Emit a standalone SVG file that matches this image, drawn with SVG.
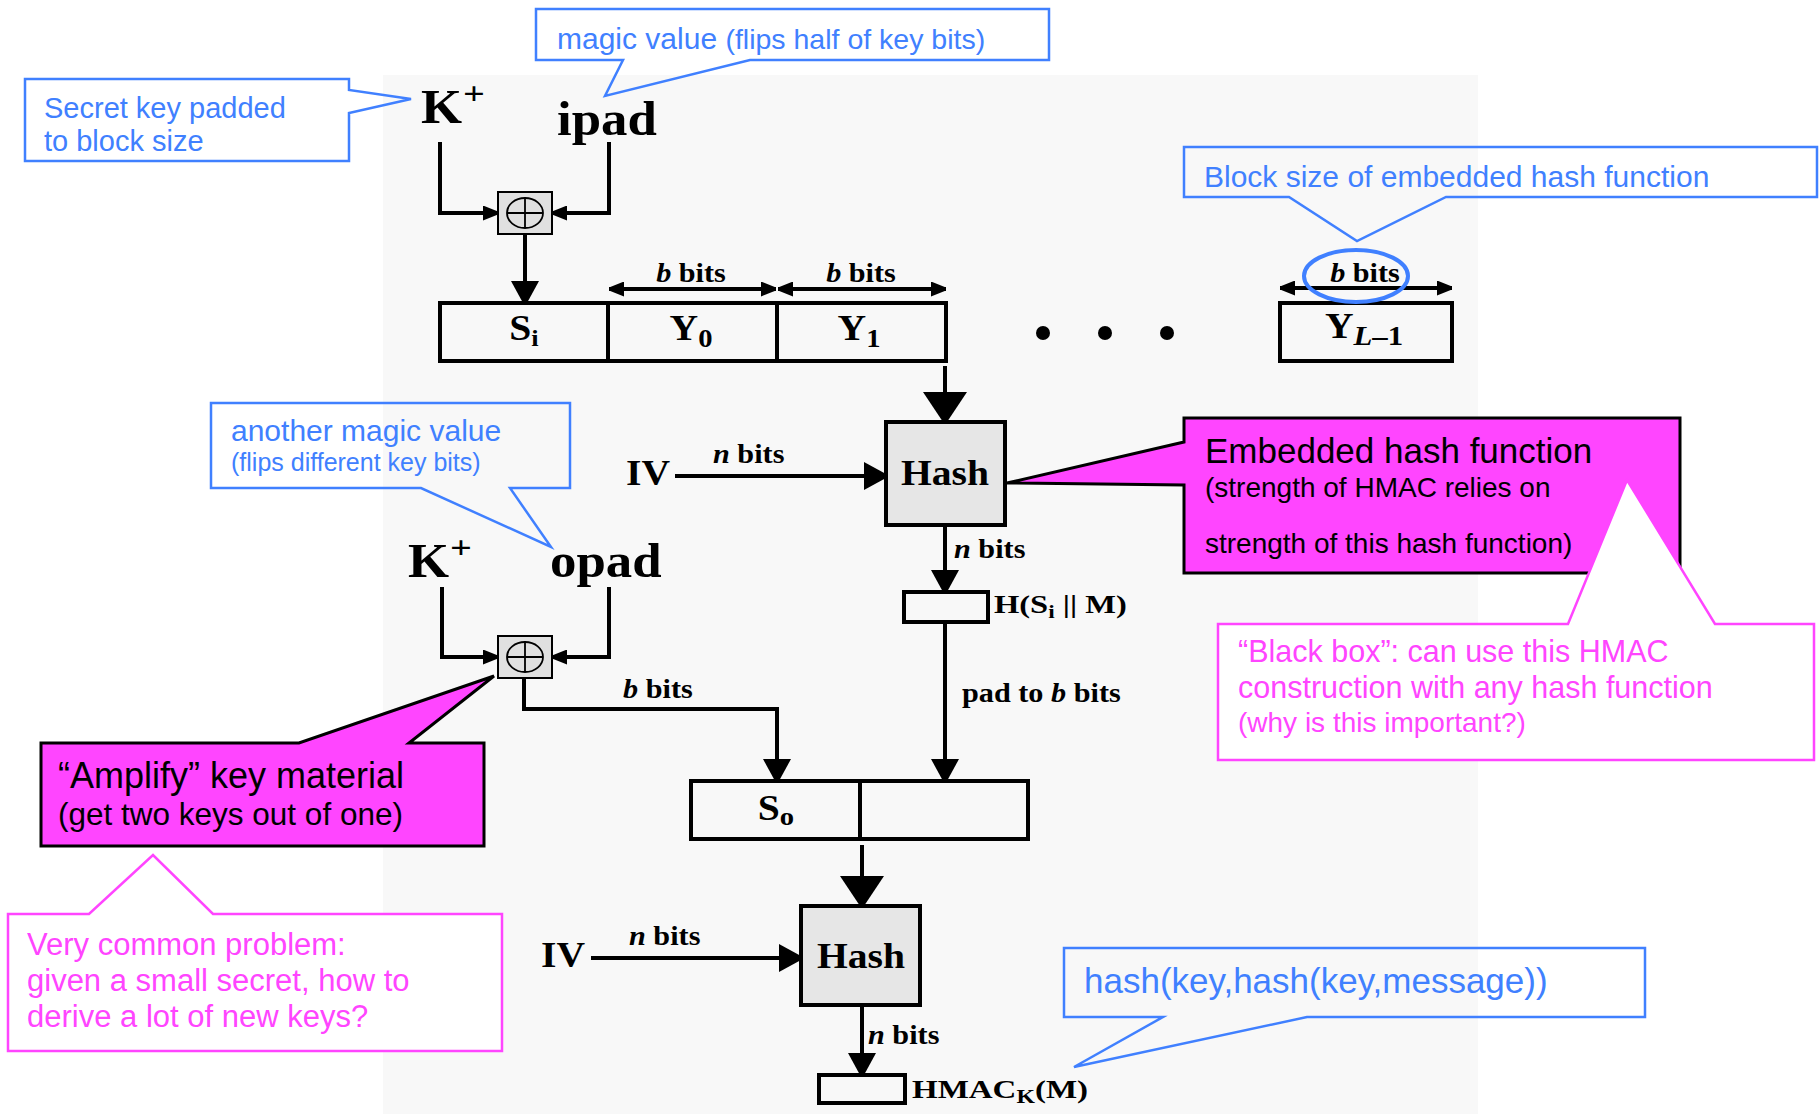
<svg xmlns="http://www.w3.org/2000/svg" width="1820" height="1114" viewBox="0 0 1820 1114">
  <style>
    .bg { fill: #f8f8f8; }
    .ln { fill: none; stroke: #000; stroke-width: 4; }
    .blk { fill: none; stroke: #000; stroke-width: 4; }
    .hash { fill: #e6e6e6; stroke: #000; stroke-width: 4; }
    .xor { fill: #e0e0e0; stroke: #000; stroke-width: 2; }
    .xorsym { fill: none; stroke: #000; stroke-width: 1.8; }
    .lbl { font-family: "Liberation Serif", "Times New Roman", serif; font-weight: bold; fill: #000; }
    .co-blue { fill: none; stroke: #4080ff; stroke-width: 2.5; }
    .co-pink { fill: #fff; stroke: #ff45ff; stroke-width: 2.5; }
    .co-mag { fill: #ff45ff; stroke: #000; stroke-width: 3; }
    .sans { font-family: "Liberation Sans", Arial, sans-serif; }
    .tb { fill: #4080ff; }
    .tp { fill: #ff45ff; }
    .tk { fill: #000; }
  </style>
  <defs>
    <marker id="ah-lg" markerUnits="userSpaceOnUse" markerWidth="30" markerHeight="44" refX="30" refY="22" orient="auto">
      <path d="M0,0 L30,20 L30,24 L0,44 Z" fill="#000"/>
    </marker>
    <marker id="ah-md" markerUnits="userSpaceOnUse" markerWidth="22" markerHeight="28" refX="22" refY="14" orient="auto">
      <path d="M0,0 L22,12 L22,16 L0,28 Z" fill="#000"/>
    </marker>
    <marker id="ah-sm" markerUnits="userSpaceOnUse" markerWidth="15" markerHeight="15" refX="15" refY="7.5" orient="auto-start-reverse">
      <path d="M0,0 L15,6 L15,9 L0,15 Z" fill="#000"/>
    </marker>
  </defs>

  <rect class="bg" x="383" y="75" width="1095" height="1039"/>

  <!-- connectors -->
  <g id="connectors">
    <path class="ln" d="M440,142 V213 H498" marker-end="url(#ah-sm)"/>
    <path class="ln" d="M609,142 V213 H552" marker-end="url(#ah-sm)"/>
    <path class="ln" d="M525,233 V303" marker-end="url(#ah-md)"/>
    <path class="ln" d="M609,289 H776" marker-start="url(#ah-sm)" marker-end="url(#ah-sm)"/>
    <path class="ln" d="M778,289 H946" marker-start="url(#ah-sm)" marker-end="url(#ah-sm)"/>
    <path class="ln" d="M1280,288 H1452" marker-start="url(#ah-sm)" marker-end="url(#ah-sm)"/>
    <path class="ln" d="M945,366 V422" marker-end="url(#ah-lg)"/>
    <path class="ln" d="M675,476 H886" marker-end="url(#ah-md)"/>
    <path class="ln" d="M945,525 V592" marker-end="url(#ah-md)"/>
    <path class="ln" d="M945,622 V781" marker-end="url(#ah-md)"/>
    <path class="ln" d="M442,587 V657 H498" marker-end="url(#ah-sm)"/>
    <path class="ln" d="M609,587 V657 H552" marker-end="url(#ah-sm)"/>
    <path class="ln" d="M524,678 V709 H777 V781" marker-end="url(#ah-md)"/>
    <path class="ln" d="M862,845 V906" marker-end="url(#ah-lg)"/>
    <path class="ln" d="M591,958 H801" marker-end="url(#ah-md)"/>
    <path class="ln" d="M862,1005 V1075" marker-end="url(#ah-md)"/>
  </g>

  <!-- inner key derivation -->
  <g id="kplus-in">
    <text class="lbl" font-size="48" transform="translate(421,123) scale(1.1,1)">K</text>
    <text class="lbl" font-size="32" font-weight="normal" transform="translate(463,104) scale(1.2,1)">+</text>
  </g>
  <g id="ipad">
    <text class="lbl" font-size="48" transform="translate(557,135) scale(1.1,1)">ipad</text>
  </g>
  <g id="xor-in">
    <rect class="xor" x="498" y="192" width="54" height="42"/>
    <ellipse class="xorsym" cx="525" cy="213" rx="18" ry="15"/>
    <path class="xorsym" d="M507,213 H543 M525,198 V228"/>
  </g>

  <!-- message blocks -->
  <g id="block-row">
    <rect class="blk" x="440" y="303" width="506" height="58"/>
    <path class="blk" d="M608,303 V361 M777,303 V361"/>
    <text class="lbl" font-size="36" text-anchor="middle" transform="translate(524,340) scale(1.1,1)">S<tspan font-size="24" dy="6">i</tspan></text>
    <text class="lbl" font-size="36" text-anchor="middle" transform="translate(691,340) scale(1.1,1)">Y<tspan font-size="26" dy="7">0</tspan></text>
    <text class="lbl" font-size="36" text-anchor="middle" transform="translate(859,340) scale(1.1,1)">Y<tspan font-size="26" dy="7">1</tspan></text>
    <text class="lbl" font-size="27" text-anchor="middle" transform="translate(691,282) scale(1.12,1)"><tspan font-style="italic">b</tspan> bits</text>
    <text class="lbl" font-size="27" text-anchor="middle" transform="translate(861,282) scale(1.12,1)"><tspan font-style="italic">b</tspan> bits</text>
  </g>
  <g id="ellipsis">
    <circle cx="1043" cy="333" r="7"/>
    <circle cx="1105" cy="333" r="7"/>
    <circle cx="1167" cy="333" r="7"/>
  </g>
  <g id="block-last">
    <rect class="blk" x="1280" y="303" width="172" height="58"/>
    <text class="lbl" font-size="36" text-anchor="middle" transform="translate(1364,338) scale(1.1,1)">Y<tspan font-size="28" dy="7" font-style="italic">L</tspan><tspan font-size="28">–1</tspan></text>
    <text class="lbl" font-size="27" text-anchor="middle" transform="translate(1365,282) scale(1.12,1)"><tspan font-style="italic">b</tspan> bits</text>
    <ellipse cx="1356" cy="276" rx="52" ry="26" fill="none" stroke="#4080ff" stroke-width="4"/>
  </g>

  <!-- inner hash -->
  <g id="iv-in">
    <text class="lbl" font-size="36" transform="translate(626,485) scale(1.1,1)">IV</text>
    <text class="lbl" font-size="27" transform="translate(713,463) scale(1.12,1)"><tspan font-style="italic">n</tspan> bits</text>
  </g>
  <g id="hash-in">
    <rect class="hash" x="886" y="422" width="119" height="103"/>
    <text class="lbl" font-size="36" text-anchor="middle" transform="translate(945,485) scale(1.1,1)">Hash</text>
    <text class="lbl" font-size="27" transform="translate(954,558) scale(1.12,1)"><tspan font-style="italic">n</tspan> bits</text>
  </g>
  <g id="inner-digest">
    <rect class="blk" x="904" y="592" width="84" height="30" fill="#fff"/>
    <text class="lbl" font-size="25" transform="translate(994,613) scale(1.3,1)">H(S<tspan font-size="18" dy="5">i</tspan><tspan dy="-5"> || M)</tspan></text>
    <text class="lbl" font-size="27" transform="translate(962,702) scale(1.12,1)">pad to <tspan font-style="italic">b</tspan> bits</text>
  </g>

  <!-- outer key derivation -->
  <g id="kplus-out">
    <text class="lbl" font-size="48" transform="translate(408,577) scale(1.1,1)">K</text>
    <text class="lbl" font-size="32" font-weight="normal" transform="translate(450,558) scale(1.2,1)">+</text>
  </g>
  <g id="opad">
    <text class="lbl" font-size="48" transform="translate(550,577) scale(1.1,1)">opad</text>
  </g>
  <g id="xor-out">
    <rect class="xor" x="498" y="636" width="54" height="42"/>
    <ellipse class="xorsym" cx="525" cy="657" rx="18" ry="15"/>
    <path class="xorsym" d="M507,657 H543 M525,642 V672"/>
    <text class="lbl" font-size="27" transform="translate(623,698) scale(1.12,1)"><tspan font-style="italic">b</tspan> bits</text>
  </g>
  <g id="outer-row">
    <rect class="blk" x="691" y="781" width="337" height="58"/>
    <path class="blk" d="M860,781 V839"/>
    <text class="lbl" font-size="36" text-anchor="middle" transform="translate(776,820) scale(1.1,1)">S<tspan font-size="26" dy="5">o</tspan></text>
  </g>

  <!-- outer hash -->
  <g id="iv-out">
    <text class="lbl" font-size="36" transform="translate(541,967) scale(1.1,1)">IV</text>
    <text class="lbl" font-size="27" transform="translate(629,945) scale(1.12,1)"><tspan font-style="italic">n</tspan> bits</text>
  </g>
  <g id="hash-out">
    <rect class="hash" x="801" y="906" width="119" height="99"/>
    <text class="lbl" font-size="36" text-anchor="middle" transform="translate(861,968) scale(1.1,1)">Hash</text>
    <text class="lbl" font-size="27" transform="translate(868,1044) scale(1.12,1)"><tspan font-style="italic">n</tspan> bits</text>
  </g>
  <g id="hmac-out">
    <rect class="blk" x="819" y="1075" width="86" height="28" fill="#fff"/>
    <text class="lbl" font-size="25" transform="translate(912,1098) scale(1.32,1)">HMAC<tspan font-size="18" dy="5">K</tspan><tspan dy="-5">(M)</tspan></text>
  </g>

  <!-- annotations -->
  <g id="note-secret-key">
    <path class="co-blue" d="M25,79 H349 V90 L411,99 L349,113 V161 H25 Z"/>
    <text class="sans tb" font-size="29" x="44" y="118">Secret key padded</text>
    <text class="sans tb" font-size="29" x="44" y="151">to block size</text>
  </g>
  <g id="note-ipad">
    <path class="co-blue" d="M536,9 H1049 V60 H750 L605,96 L623,60 H536 Z"/>
    <text class="sans tb" font-size="30" x="557" y="49">magic value <tspan font-size="28.5">(flips half of key bits)</tspan></text>
  </g>
  <g id="note-block-size">
    <path class="co-blue" d="M1184,147 H1817 V197 H1446 L1357,241 L1289,197 H1184 Z"/>
    <text class="sans tb" font-size="30" x="1204" y="187">Block size of embedded hash function</text>
  </g>
  <g id="note-opad">
    <path class="co-blue" d="M211,403 H570 V488 H510 L551,547 L421,488 H211 Z"/>
    <text class="sans tb" font-size="30" x="231" y="441">another magic value</text>
    <text class="sans tb" font-size="25" x="231" y="471">(flips different key bits)</text>
  </g>
  <g id="note-embedded">
    <path class="co-mag" d="M1184,418 H1680 V573 H1184 V485 L1007,483 L1184,442 Z"/>
    <text class="sans tk" font-size="35" x="1205" y="463">Embedded hash function</text>
    <text class="sans tk" font-size="28" x="1205" y="497">(strength of HMAC relies on</text>
    <text class="sans tk" font-size="28" x="1205" y="553">strength of this hash function)</text>
  </g>
  <g id="note-black-box">
    <path class="co-pink" d="M1218,624 H1568 L1627,480 L1715,624 H1814 V760 H1218 Z"/>
    <text class="sans tp" font-size="30.5" x="1238" y="662">“Black box”: can use this HMAC</text>
    <text class="sans tp" font-size="30.5" x="1238" y="698">construction with any hash function</text>
    <text class="sans tp" font-size="28" x="1238" y="732">(why is this important?)</text>
  </g>
  <g id="note-amplify">
    <path class="co-mag" d="M41,743 H299 L494,676 L409,743 H484 V846 H41 Z"/>
    <text class="sans tk" font-size="36" x="58" y="788">“Amplify” key material</text>
    <text class="sans tk" font-size="31.5" x="58" y="825">(get two keys out of one)</text>
  </g>
  <g id="note-common-problem">
    <path class="co-pink" d="M8,914 H89 L153,855 L213,914 H502 V1051 H8 Z"/>
    <text class="sans tp" font-size="31" x="27" y="955">Very common problem:</text>
    <text class="sans tp" font-size="31" x="27" y="991">given a small secret, how to</text>
    <text class="sans tp" font-size="31" x="27" y="1027">derive a lot of new keys?</text>
  </g>
  <g id="note-nested">
    <path class="co-blue" d="M1064,948 H1645 V1017 H1307 L1074,1067 L1163,1017 H1064 Z"/>
    <text class="sans tb" font-size="35" x="1084" y="993">hash(key,hash(key,message))</text>
  </g>
</svg>
